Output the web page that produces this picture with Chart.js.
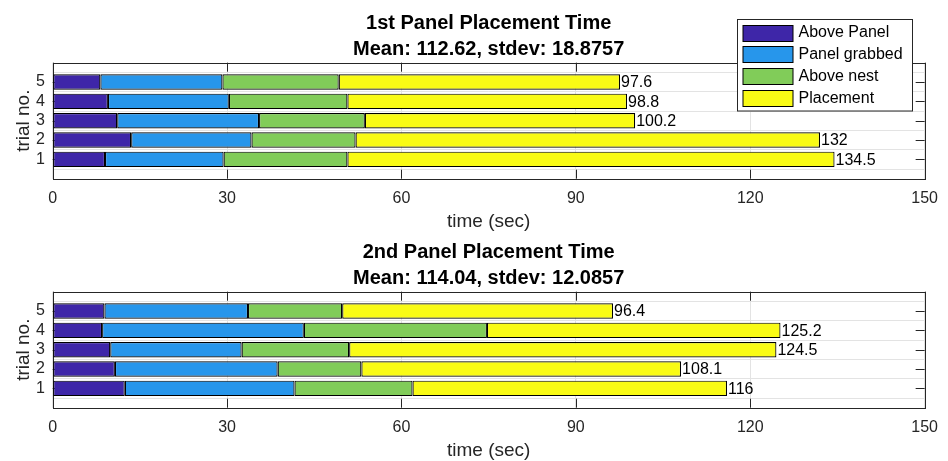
<!DOCTYPE html>
<html>
<head>
<meta charset="utf-8">
<script src="https://cdn.jsdelivr.net/npm/chart.js@4.4.1/dist/chart.umd.min.js"></script>
<style>
  html, body { margin: 0; padding: 0; background: #fff; overflow: hidden; width: 948px; height: 461px; }
  .panel { position: absolute; left: 0; width: 948px; height: 237px; }
  #p1 { top: 0; }
  #p2 { top: 229px; }
</style>
</head>
<body>
<div class="panel" id="p1"><canvas id="c1" width="948" height="237"></canvas></div>
<div class="panel" id="p2"><canvas id="c2" width="948" height="237"></canvas></div>
<script>
// Trial numbers and phase names
const trials = [1, 2, 3, 4, 5];
const phaseNames = ['Above Panel', 'Panel grabbed', 'Above nest', 'Placement'];
const phaseColors = ['#3e26a8', '#2796eb', '#81cc59', '#f9fb15'];
const xTicks = [0, 30, 60, 90, 120, 150];
const yTicks = [1, 2, 3, 4, 5];

// 1st panel: duration of each phase (sec), trials 1..5
const p1AbovePanel   = [9.0, 13.5, 11.1, 9.5, 8.2];
const p1PanelGrabbed = [20.4, 20.7, 24.4, 20.8, 21.0];
const p1AboveNest    = [21.3, 17.9, 18.2, 20.4, 20.0];
const p1Placement    = [83.8, 79.9, 46.5, 48.1, 48.4];
const p1Title = ['1st Panel Placement Time', 'Mean: 112.62, stdev: 18.8757'];

// 2nd panel: duration of each phase (sec), trials 1..5
const p2AbovePanel   = [12.4, 10.7, 9.9, 8.5, 8.9];
const p2PanelGrabbed = [29.2, 28.0, 22.6, 34.7, 24.7];
const p2AboveNest    = [20.3, 14.4, 18.5, 31.5, 16.2];
const p2Placement    = [54.1, 55.0, 73.5, 50.5, 46.6];
const p2Title = ['2nd Panel Placement Time', 'Mean: 114.04, stdev: 12.0857'];

const FONT = "'Liberation Sans', Arial, Helvetica, sans-serif";
const AXIS_COLOR = '#262626';
const GRID_COLOR = '#e3e3e3';

// Axes box with inward tick marks, drawn beneath the bars
const framePlugin = {
  id: 'frame',
  beforeDatasetsDraw(chart) {
    const { ctx, chartArea: a, scales: { x, y } } = chart;
    const len = 9;
    ctx.save();
    ctx.strokeStyle = AXIS_COLOR;
    ctx.lineWidth = 1;
    ctx.beginPath();
    xTicks.forEach(v => {
      const px = Math.round(x.getPixelForValue(v)) + 0.5;
      ctx.moveTo(px, a.bottom); ctx.lineTo(px, a.bottom - len);
      ctx.moveTo(px, a.top); ctx.lineTo(px, a.top + len);
    });
    yTicks.forEach(v => {
      const py = Math.round(y.getPixelForValue(v)) + 0.5;
      ctx.moveTo(a.left, py); ctx.lineTo(a.left + len, py);
      ctx.moveTo(a.right, py); ctx.lineTo(a.right - len, py);
    });
    ctx.stroke();
    ctx.strokeRect(Math.round(a.left) + 0.5, Math.round(a.top) + 0.5,
                   Math.round(a.right - a.left), Math.round(a.bottom - a.top));
    ctx.restore();
  }
};

// Total time written just past the end of each stacked bar
const totalsPlugin = {
  id: 'totals',
  afterDatasetsDraw(chart) {
    const { ctx } = chart;
    const last = chart.data.datasets.length - 1;
    const meta = chart.getDatasetMeta(last);
    ctx.save();
    ctx.font = '16px ' + FONT;
    ctx.fillStyle = '#000';
    ctx.textAlign = 'left';
    ctx.textBaseline = 'middle';
    meta.data.forEach((bar, i) => {
      const total = chart.data.datasets.reduce((s, ds) => s + ds.data[i].x, 0);
      const label = String(Number(total.toFixed(1)));
      ctx.fillText(label, bar.x + 1, bar.y + 1);
    });
    ctx.restore();
  }
};

// Boxed legend in the upper right corner
const boxLegendPlugin = {
  id: 'boxLegend',
  afterDraw(chart, args, opts) {
    if (!opts || !opts.show) return;
    const { ctx } = chart;
    const bx = 737.5, by = 19.5, bw = 175, bh = 91.5;
    ctx.save();
    ctx.fillStyle = '#fff';
    ctx.fillRect(bx, by, bw, bh);
    ctx.strokeStyle = AXIS_COLOR;
    ctx.lineWidth = 1;
    ctx.strokeRect(bx, by, bw, bh);
    ctx.font = '16px ' + FONT;
    ctx.textAlign = 'left';
    ctx.textBaseline = 'middle';
    chart.data.datasets.forEach((ds, i) => {
      const sy = by + 5 + i * 21.9;
      ctx.fillStyle = ds.backgroundColor;
      ctx.fillRect(bx + 5.5, Math.round(sy) + 0.5, 50, 16);
      ctx.strokeStyle = '#000';
      ctx.strokeRect(bx + 5.5, Math.round(sy) + 0.5, 50, 16);
      ctx.fillStyle = '#000';
      ctx.fillText(ds.label, bx + 61, sy + 8.5);
    });
    ctx.restore();
  }
};

function makePanel(canvasId, title, phases, showLegend) {
  const datasets = phases.map((vals, k) => ({
    label: phaseNames[k],
    data: trials.map((t, i) => ({ x: vals[i], y: t })),
    backgroundColor: phaseColors[k],
    borderColor: '#000',
    borderWidth: 1.2,
    borderSkipped: false,
    barPercentage: 0.8,
    categoryPercentage: 1.0
  }));
  return new Chart(document.getElementById(canvasId), {
    type: 'bar',
    data: { datasets },
    options: {
      indexAxis: 'y',
      responsive: false,
      animation: false,
      layout: { padding: { left: 0, right: 19.7, top: 0, bottom: 0 } },
      plugins: {
        legend: { display: false },
        tooltip: { enabled: false },
        title: {
          display: true,
          fullSize: false,
          text: title,
          color: '#000',
          font: { family: FONT, size: 20, weight: 'bold', lineHeight: 1.3 },
          padding: { top: 10, bottom: 0.7 }
        },
        boxLegend: { show: showLegend }
      },
      scales: {
        x: {
          type: 'linear',
          stacked: true,
          min: 0, max: 150,
          afterBuildTicks: s => { s.ticks = xTicks.map(v => ({ value: v })); },
          afterFit: s => { s.height = 237 - 178.7; },
          grid: { color: GRID_COLOR, drawTicks: false },
          border: { display: false },
          ticks: { color: AXIS_COLOR, font: { family: FONT, size: 16 }, padding: 10, maxRotation: 0 },
          title: {
            display: true, text: 'time (sec)', color: AXIS_COLOR,
            font: { family: FONT, size: 19, lineHeight: 1.2 },
            padding: { top: 0, bottom: 4 }
          }
        },
        y: {
          type: 'linear',
          stacked: true,
          offset: false,
          min: 0, max: 6,
          afterBuildTicks: s => { s.ticks = yTicks.map(v => ({ value: v })); },
          afterFit: s => { s.width = 52.7; },
          grid: { color: GRID_COLOR, drawTicks: false },
          border: { display: false },
          ticks: { color: AXIS_COLOR, font: { family: FONT, size: 16 }, padding: 7.7 },
          title: {
            display: true, text: 'trial no.', color: AXIS_COLOR,
            font: { family: FONT, size: 19, lineHeight: 1.2 },
            padding: { top: 12, bottom: 0 }
          }
        }
      }
    },
    plugins: [framePlugin, totalsPlugin, boxLegendPlugin]
  });
}

makePanel('c1', p1Title, [p1AbovePanel, p1PanelGrabbed, p1AboveNest, p1Placement], true);
makePanel('c2', p2Title, [p2AbovePanel, p2PanelGrabbed, p2AboveNest, p2Placement], false);
</script>
</body>
</html>
